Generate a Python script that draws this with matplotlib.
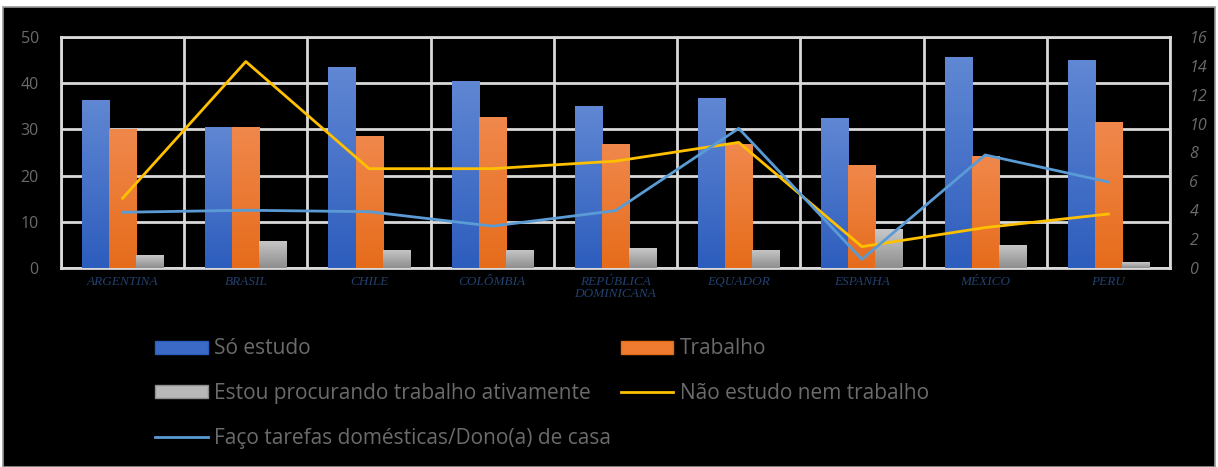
import matplotlib
matplotlib.use("Agg")
import matplotlib.pyplot as plt
import numpy as np
from matplotlib.patches import Rectangle, Patch
from matplotlib.lines import Line2D
from matplotlib.colors import LinearSegmentedColormap

categories = ["ARGENTINA", "BRASIL", "CHILE", "COLÔMBIA", "REPÚBLICA\nDOMINICANA",
              "EQUADOR", "ESPANHA", "MÉXICO", "PERU"]
so_estudo = [36.4, 30.6, 43.6, 40.5, 35.0, 36.9, 32.4, 45.6, 45.0]
trabalho = [30.0, 30.6, 28.6, 32.7, 26.9, 26.8, 22.4, 24.3, 31.5]
procurando = [2.8, 5.9, 3.9, 3.9, 4.3, 3.9, 8.4, 5.0, 1.2]
nao_estudo = [4.83, 14.3, 6.88, 6.88, 7.4, 8.7, 1.48, 2.8, 3.74]
tarefas = [3.86, 4.0, 3.9, 2.9, 3.97, 9.67, 0.6, 7.83, 5.96]

labels = ["Só estudo", "Trabalho", "Estou procurando trabalho ativamente",
          "Não estudo nem trabalho", "Faço tarefas domésticas/Dono(a) de casa"]

W, H = 1218, 467
fig = plt.figure(figsize=(W / 100, H / 100), dpi=100)
fig.patch.set_facecolor("white")
# black panel
fig.add_artist(Rectangle((3 / W, 0), (W - 6) / W, (H - 7) / H, transform=fig.transFigure,
                         facecolor="black", edgecolor="#9a9a9a", linewidth=1.2, zorder=0))

ax = fig.add_axes([61 / W, (H - 268) / H, (1170 - 61) / W, (268 - 37) / H])
ax.set_facecolor("black")
ax.set_zorder(1)
ax2 = ax.twinx()
ax2.set_zorder(2)
ax2.patch.set_visible(False)

x = np.arange(len(categories))
bw = 0.22
grads = [("#6087d3", "#2d5dbd"), ("#f0884c", "#e66c1b"), ("#c8c8c8", "#8e8e8e")]
series = [so_estudo, trabalho, procurando]
for i, (vals, (ctop, cbot)) in enumerate(zip(series, grads)):
    bars = ax.bar(x + (i - 1) * bw, vals, width=bw, color=cbot, zorder=3, linewidth=0)
    cmap = LinearSegmentedColormap.from_list("g%d" % i, [cbot, ctop])
    grad = np.linspace(0, 1, 64).reshape(-1, 1)
    for b in bars:
        x0, y0 = b.get_x(), b.get_y()
        w, h = b.get_width(), b.get_height()
        im = ax.imshow(grad, extent=(x0, x0 + w, y0, y0 + h), origin="lower",
                       aspect="auto", cmap=cmap, zorder=3.5)
        im.set_clip_path(b)

ax.set_xlim(-0.5, len(categories) - 0.5)
ax.set_ylim(0, 50)
ax.set_yticks(range(0, 51, 10))
ax.set_xticks(x)
ax.set_xticklabels(categories, fontfamily="Liberation Serif", fontstyle="italic",
                   fontsize=9.5, color="#23406e", linespacing=0.95)
ax.tick_params(axis="x", length=0, pad=6)
ax.tick_params(axis="y", length=0, pad=16, labelsize=11.5, labelcolor="#6b6b6b")
for lab in ax.get_yticklabels():
    lab.set_fontfamily("Open Sans")
ax.grid(axis="y", color="#d9d9d9", linewidth=2, zorder=1)
for xv in np.arange(-0.5, len(categories), 1.0):
    ax.axvline(xv, color="#d9d9d9", linewidth=2, zorder=1)
for s in ax.spines.values():
    s.set_color("#d9d9d9")
    s.set_linewidth(2)

ax2.plot(x, nao_estudo, color="#ffc000", linewidth=2, zorder=5)
ax2.plot(x, tarefas, color="#5b9bd5", linewidth=2, zorder=5)
ax2.set_ylim(0, 16)
ax2.set_yticks(range(0, 17, 2))
ax2.tick_params(axis="y", length=0, pad=14, labelsize=11.5, labelcolor="#6b6b6b")
for lab in ax2.get_yticklabels():
    lab.set_fontfamily("Open Sans")
    lab.set_fontstyle("italic")
for s in ax2.spines.values():
    s.set_visible(False)

h_list = [
    Patch(facecolor="#3b6ac6", edgecolor="#2c5cbc"),
    Patch(facecolor="#b8b8b8", edgecolor="#8e8e8e"),
    Line2D([0], [0], color="#5b9bd5", linewidth=2),
    Patch(facecolor="#ee7b30", edgecolor="#e66c1b"),
    Line2D([0], [0], color="#ffc000", linewidth=2),
]
l_list = [labels[0], labels[2], labels[4], labels[1], labels[3]]
leg = fig.legend(h_list, l_list, ncol=2, loc="upper left",
                 bbox_to_anchor=(145 / W, (H - 328) / H), frameon=False, borderpad=0,
                 prop={"family": "Open Sans", "size": 15}, labelcolor="#6b6b6b",
                 handlelength=2.5, handleheight=0.58, handletextpad=0.3,
                 columnspacing=0.5, labelspacing=1.14)

fig.savefig("out.png", dpi=100, facecolor=fig.get_facecolor())
